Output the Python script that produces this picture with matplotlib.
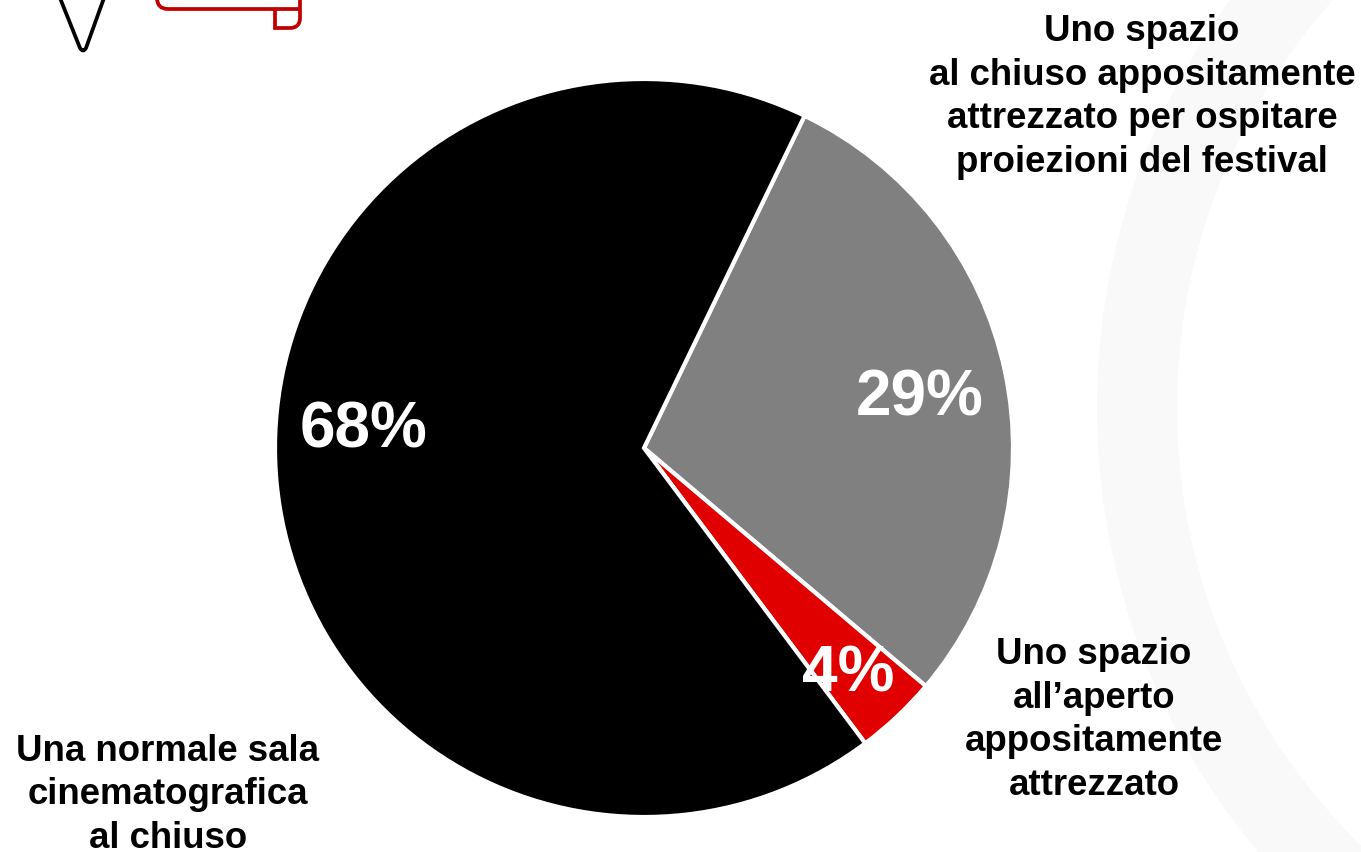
import matplotlib
matplotlib.use('Agg')
from matplotlib import pyplot as plt
from matplotlib.patches import Circle, PathPatch
from matplotlib.path import Path

# slices, clockwise from the top right
shares = [29.0, 3.6, 67.4]
pct_labels = ['29%', '4%', '68%']
slice_colors = ['#808080', '#e00000', '#000000']
cat_labels = ['Uno spazio\nal chiuso appositamente\nattrezzato per ospitare\nproiezioni del festival',
              'Uno spazio\nall\u2019aperto\nappositamente\nattrezzato',
              'Una normale sala\ncinematografica\nal chiuso']

W, H = 1361, 852
plt.rcParams['font.family'] = ['Liberation Sans', 'DejaVu Sans']

fig = plt.figure(figsize=(W / 100, H / 100), dpi=100)
ax = fig.add_axes([0, 0, 1, 1])


def fy(y):
    # picture rows count from the top
    return H - y


# pale ring in the background
ax.add_patch(Circle((1789, fy(408)), 652, fill=False, ec='#f9f9f9', lw=80 * 0.72, zorder=0))

ax.pie(shares, colors=slice_colors, startangle=64.2, counterclock=False,
       center=(644, fy(448)), radius=369, frame=True,
       wedgeprops={'edgecolor': 'white', 'linewidth': 3})

ax.set_xlim(0, W)
ax.set_ylim(0, H)
ax.set_aspect('equal')
ax.axis('off')

# percent labels
pct_pos = [(920, 399), (848, 674), (364, 431)]
for lab, (x, y) in zip(pct_labels, pct_pos):
    ax.text(x, fy(y), lab, color='white', fontsize=46, fontweight='bold',
            ha='center', va='center', zorder=5)

# category labels
cat_pos = [(1142, 97), (1094, 720), (168, 795)]
for lab, (x, y) in zip(cat_labels, cat_pos):
    ax.text(x, fy(y), lab, color='black', fontsize=26.4, fontweight='bold',
            ha='center', va='center', linespacing=1.33, zorder=5)

# bits of the icons cut by the top edge
v_path = Path([(60, fy(-2)), (80, fy(48)), (83, fy(53)), (86, fy(48)), (104, fy(-2))],
              [Path.MOVETO, Path.LINETO, Path.CURVE3, Path.CURVE3, Path.LINETO])
ax.add_patch(PathPatch(v_path, fill=False, ec='black', lw=2.7, capstyle='round'))

red_path = Path([(157, fy(-2)), (157, fy(9)), (168, fy(9)), (300, fy(9))],
                [Path.MOVETO, Path.CURVE3, Path.CURVE3, Path.LINETO])
ax.add_patch(PathPatch(red_path, fill=False, ec='#c00000', lw=2.7))
fold_path = Path([(275, fy(9)), (275, fy(28)), (290, fy(28)), (300, fy(28)), (300, fy(18)), (300, fy(-2))],
                 [Path.MOVETO, Path.LINETO, Path.LINETO, Path.CURVE3, Path.CURVE3, Path.LINETO])
ax.add_patch(PathPatch(fold_path, fill=False, ec='#c00000', lw=2.7))

fig.savefig('out.png', dpi=100, facecolor='white')
